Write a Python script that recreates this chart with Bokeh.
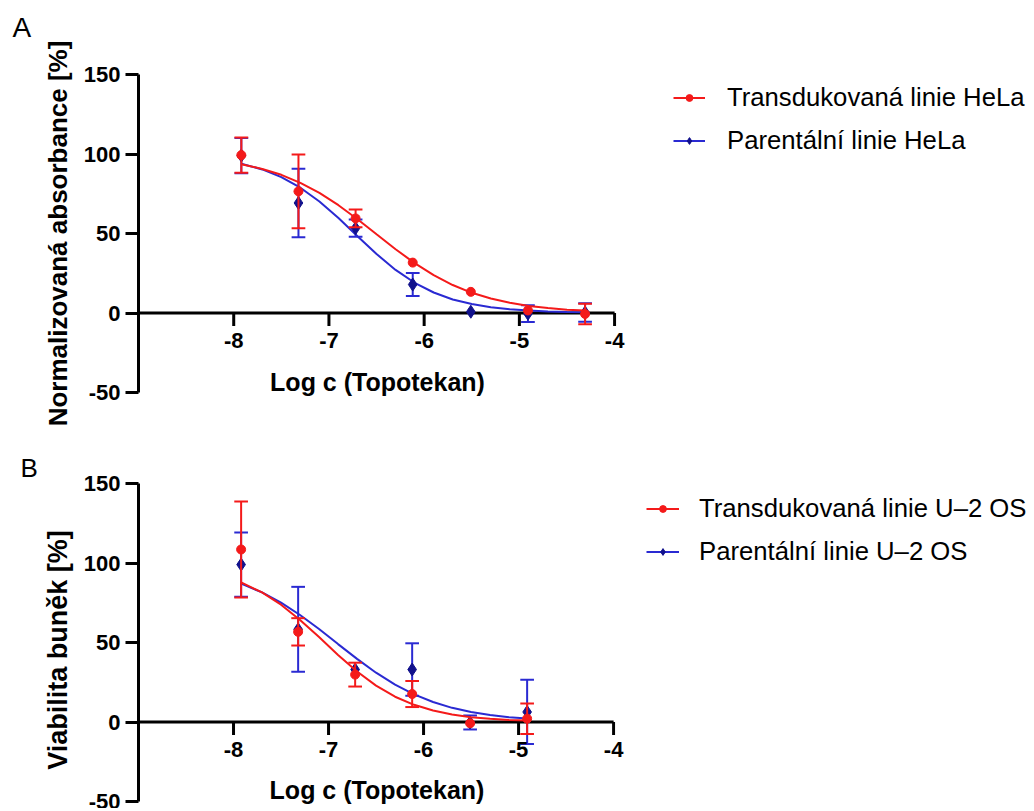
import numpy as np
from bokeh.plotting import figure
from bokeh.models import Range1d, FixedTicker, Legend, LegendItem
from bokeh.layouts import column
from bokeh.embed import file_html
from bokeh.resources import INLINE

# ---------------- data ----------------
x_ticks = [-8, -7, -6, -5, -4]
x_tick_labels = ["-8", "-7", "-6", "-5", "-4"]
y_ticks = [-50, 0, 50, 100, 150]
y_tick_labels = ["-50", "0", "50", "100", "150"]

# Panel A (HeLa)
a_log_c = [-7.92, -7.32, -6.72, -6.12, -5.51, -4.91, -4.31]
a_trans_mean = [99.3, 76.5, 59.5, 31.7, 13.3, 1.6, -0.6]
a_trans_sd = [11.1, 23.2, 5.6, 1.0, 1.0, 1.5, 6.4]
a_par_mean = [99.0, 69.2, 53.4, 17.9, 0.8, -0.4, 0.3]
a_par_sd = [11.1, 21.5, 5.4, 7.2, 1.0, 5.2, 5.8]
a_fit_x = [-7.92, -7.7, -7.5, -7.3, -7.1, -6.9, -6.7, -6.5, -6.3, -6.1,
           -5.9, -5.7, -5.5, -5.3, -5.1, -4.9, -4.7, -4.5, -4.31]
a_trans_fit = [93.6, 90.6, 86.9, 81.8, 75.5, 67.8, 59.0, 49.5, 40.1, 31.4,
               23.8, 17.6, 12.7, 9.1, 6.4, 4.4, 3.1, 2.1, 1.5]
a_par_fit = [93.9, 90.3, 85.5, 78.8, 70.1, 59.7, 48.3, 37.1, 27.1, 19.0,
             12.9, 8.5, 5.6, 3.6, 2.3, 1.5, 0.9, 0.6, 0.4]

# Panel B (U-2 OS)
b_log_c = [-7.92, -7.32, -6.72, -6.12, -5.51, -4.91]
b_trans_mean = [108.5, 56.7, 29.8, 17.6, -0.8, 2.1]
b_trans_sd = [30.2, 8.6, 7.5, 8.2, 1.0, 9.6]
b_par_mean = [99.0, 58.3, 33.0, 33.0, -0.3, 6.3]
b_par_sd = [20.2, 26.7, 2.5, 16.5, 4.4, 20.2]
b_fit_x = [-7.92, -7.7, -7.5, -7.3, -7.1, -6.9, -6.7, -6.5, -6.3, -6.1,
           -5.9, -5.7, -5.5, -5.3, -5.1, -4.91]
b_trans_fit = [87.8, 81.5, 73.8, 64.2, 53.4, 42.2, 31.8, 22.9, 15.9, 10.8,
               7.2, 4.7, 3.0, 2.0, 1.3, 0.9]
b_par_fit = [87.0, 81.5, 75.1, 67.3, 58.5, 49.0, 39.7, 31.0, 23.5, 17.4,
             12.6, 8.9, 6.3, 4.4, 3.0, 2.2]

# ---------------- style ----------------
RED = "#F41A1A"
BLUE = "#2A2AD2"
BLUE_MK = "#11118C"
FONT = "Liberation Sans"
X_START, X_END = -9.0, -3.98
Y_START, Y_END = -50, 150
FH = 318


def error_bars(p, xs, m, sd, color, cap=0.072, min_sd=3.0):
    xs = np.asarray(xs, float)
    m = np.asarray(m, float)
    sd = np.asarray(sd, float)
    k = sd > min_sd
    xs, lo, hi = xs[k], (m - sd)[k], (m + sd)[k]
    p.segment(x0=xs, y0=lo, x1=xs, y1=hi, line_color=color, line_width=2)
    p.segment(x0=xs - cap, y0=hi, x1=xs + cap, y1=hi, line_color=color, line_width=2)
    p.segment(x0=xs - cap, y0=lo, x1=xs + cap, y1=lo, line_color=color, line_width=2)


def make_panel(xs, tm, tsd, pm, psd, fx, tfit, pfit, ylabel, ylabel_size, labels,
               letter, letter_size, letter_offset, letter_standoff,
               fw, left, top, bottom, leg_loc, glyph_w, standoff, xlabel_standoff):
    right = 1018 - left - fw
    p = figure(frame_width=fw, frame_height=FH,
               x_range=Range1d(X_START, X_END), y_range=Range1d(Y_START, Y_END),
               output_backend="svg", toolbar_location=None,
               min_border_left=left, min_border_right=right,
               min_border_top=top, min_border_bottom=bottom)
    p.outline_line_color = None
    p.grid.visible = False
    p.background_fill_color = "white"
    p.border_fill_color = "white"

    # panel letter as the title
    p.title.text = letter
    p.title.align = "left"
    p.title.offset = letter_offset
    p.title.standoff = letter_standoff
    p.title.vertical_align = "bottom"
    p.title.text_font = FONT
    p.title.text_font_style = "normal"
    p.title.text_font_size = letter_size
    p.title.text_color = "black"

    # y axis
    ay = p.yaxis[0]
    ay.ticker = FixedTicker(ticks=y_ticks)
    ay.major_label_overrides = {t: l for t, l in zip(y_ticks, y_tick_labels)}
    ay.minor_tick_line_color = None
    ay.major_tick_in = 0
    ay.major_tick_out = 13
    ay.major_tick_line_width = 3
    ay.axis_line_width = 3
    ay.major_label_standoff = 5
    ay.major_label_text_font = FONT
    ay.major_label_text_font_style = "bold"
    ay.major_label_text_font_size = "22px"
    ay.major_label_text_color = "black"
    ay.axis_label = ylabel
    ay.axis_label_text_font = FONT
    ay.axis_label_text_font_style = "bold"
    ay.axis_label_text_font_size = ylabel_size
    ay.axis_label_text_color = "black"
    ay.axis_label_standoff = 8

    # below axis only supplies tick labels and title (pulled up to y = 0 level)
    ax = p.xaxis[0]
    ax.ticker = FixedTicker(ticks=x_ticks)
    ax.major_label_overrides = {t: l for t, l in zip(x_ticks, x_tick_labels)}
    ax.axis_line_color = None
    ax.major_tick_line_color = None
    ax.minor_tick_line_color = None
    ax.major_tick_in = 0
    ax.major_tick_out = 0
    ax.major_label_standoff = -60
    ax.major_label_text_font = FONT
    ax.major_label_text_font_style = "bold"
    ax.major_label_text_font_size = "22px"
    ax.major_label_text_color = "black"
    ax.axis_label = "Log c (Topotekan)"
    ax.axis_label_text_font = FONT
    ax.axis_label_text_font_style = "bold"
    ax.axis_label_text_font_size = "25px"
    ax.axis_label_text_color = "black"
    ax.axis_label_standoff = xlabel_standoff

    # x axis line through y = 0 with its tick marks
    px_per_y = FH / (Y_END - Y_START)
    tick_len = 13 / px_per_y
    p.segment(x0=[X_START], y0=[0], x1=[x_ticks[-1]], y1=[0],
              line_color="black", line_width=3)
    p.segment(x0=x_ticks, y0=[0] * len(x_ticks), x1=x_ticks,
              y1=[-tick_len] * len(x_ticks), line_color="black", line_width=3)

    # parental (blue) first, transduced (red) on top
    bl = p.line(fx, pfit, line_color=BLUE, line_width=2)
    error_bars(p, xs, pm, psd, BLUE)
    bs = p.scatter(xs, pm, marker="diamond", size=13, fill_color=BLUE_MK,
                   line_color=BLUE_MK)
    rl = p.line(fx, tfit, line_color=RED, line_width=2)
    error_bars(p, xs, tm, tsd, RED)
    rs = p.scatter(xs, tm, marker="circle", size=9, fill_color=RED, line_color=RED)

    legend = Legend(items=[LegendItem(label=labels[0], renderers=[rl, rs]),
                           LegendItem(label=labels[1], renderers=[bl, bs])],
                    location=leg_loc, padding=0, margin=0, spacing=13,
                    glyph_width=glyph_w, glyph_height=17, label_height=30,
                    label_standoff=standoff, border_line_color=None,
                    background_fill_alpha=0, label_text_font=FONT,
                    label_text_font_size="25.7px", label_text_color="black")
    p.add_layout(legend, "right")
    return p


pA = make_panel(a_log_c, a_trans_mean, a_trans_sd, a_par_mean, a_par_sd,
                a_fit_x, a_trans_fit, a_par_fit, "Normalizovaná absorbance [%]", "26px",
                ["Transdukovaná linie HeLa", "Parentální linie HeLa"],
                "A\n ", "28px", -126, 2,
                fw=478, left=130, top=74, bottom=47, leg_loc=(57, 237),
                glyph_w=32, standoff=22, xlabel_standoff=17)
pB = make_panel(b_log_c, b_trans_mean, b_trans_sd, b_par_mean, b_par_sd,
                b_fit_x, b_trans_fit, b_par_fit, "Viabilita buněk [%]\u00a0\u00a0", "27px",
                ["Transdukovaná linie U\u20132 OS", "Parentální linie U\u20132 OS"],
                "B", "26px", -118, 2,
                fw=477, left=138, top=44, bottom=7, leg_loc=(31, 235),
                glyph_w=33, standoff=20, xlabel_standoff=16)

layout = column(pA, pB)
open("out.html", "w").write(file_html(layout, INLINE))
